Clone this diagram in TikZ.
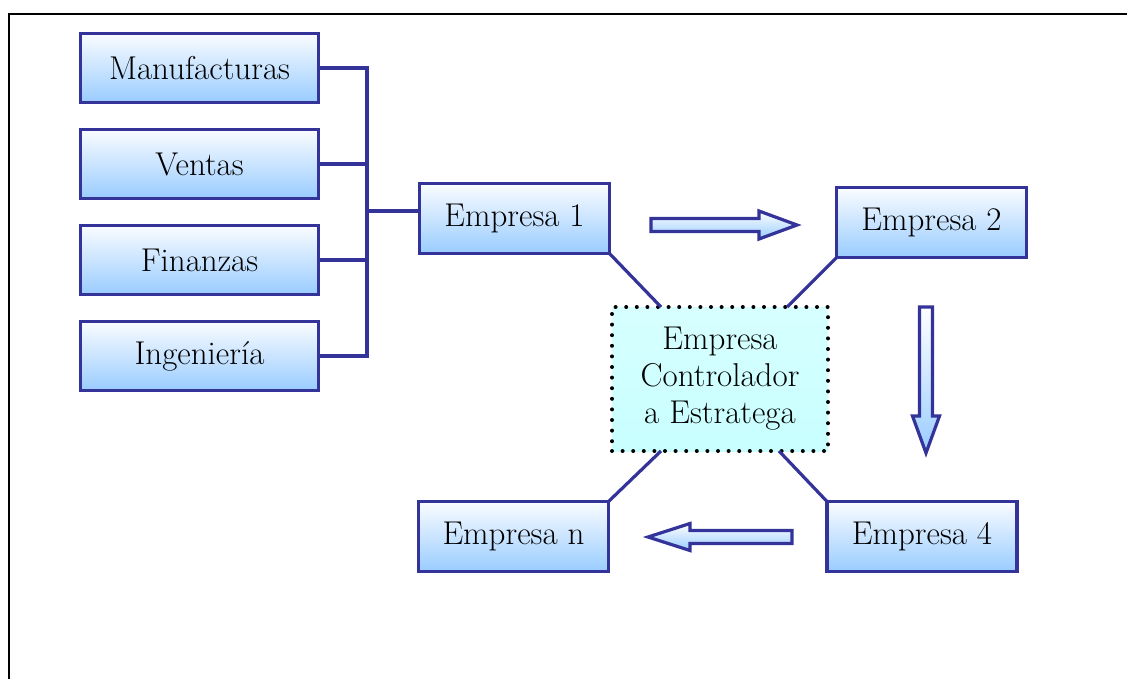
\documentclass[tikz,border=0pt]{standalone}
\usepackage{fontspec}
\setmainfont{Latin Modern Roman}
\usetikzlibrary{calc}
\definecolor{bord}{RGB}{51,51,153}
\definecolor{boxbot}{RGB}{153,204,255}
\definecolor{boxtop}{RGB}{250,252,255}
\definecolor{cyantop}{RGB}{215,255,255}
\definecolor{cyanbot}{RGB}{200,255,255}
\tikzset{
  dept/.style={draw=bord, line width=3.5pt, top color=boxtop, bottom color=boxbot,
    minimum width=238pt, minimum height=69pt, inner sep=0pt, outer sep=0pt,
    font=\fontsize{33}{37}\selectfont},
  emp/.style={dept, minimum width=190pt, minimum height=70pt},
  ctrlbox/.style={draw=black, line width=4pt, line cap=round, dash pattern=on 0pt off 10.6pt,
    top color=cyantop, middle color=white, bottom color=cyanbot,
    minimum width=216pt, minimum height=144pt, inner sep=0pt, outer sep=0pt,
    align=center, font=\fontsize{33}{37}\selectfont},
  conn/.style={draw=bord, line width=3.2pt},
  blockarrow/.style={draw=bord, line width=3.2pt, top color=white, bottom color=boxbot, line join=miter},
}
\begin{document}
\begin{tikzpicture}[x=1pt,y=-1pt]
\useasboundingbox (0,0) rectangle (1127,678);
\draw[line width=1.6pt] (9,690) -- (9,14) -- (1140,14);

\node[dept] (man) at (199.5,68) {Manufacturas};
\node[dept] (ven) at (199.5,164) {Ventas};
\node[dept] (fin) at (199.5,260) {Finanzas};
\node[dept] (ing) at (199.5,356) {Ingeniería};

\node[emp] (emp1) at (514.5,218.5) {Empresa 1};
\node[emp] (emp2) at (931.5,222.5) {Empresa 2};
\node[emp] (empn) at (513.5,536.5) {Empresa n};
\node[emp] (emp4) at (922,536.5) {Empresa 4};

\node[ctrlbox] (ctrl) at (720,379) {Empresa\\Controlador\\a Estratega};

\coordinate (bus) at (367,211);
\draw[conn] (man.east) -- (man.east -| bus) -- (ing.east -| bus) -- (ing.east);
\draw[conn] (ven.east) -- (ven.east -| bus);
\draw[conn] (fin.east) -- (fin.east -| bus);
\draw[conn] (bus) -- (bus -| emp1.west);

\draw[conn] (emp1.south east) -- ([xshift=49pt]ctrl.north west);
\draw[conn] (emp2.south west) -- ([xshift=-41pt]ctrl.north east);
\draw[conn] ([xshift=49pt]ctrl.south west) -- (empn.north east);
\draw[conn] ([xshift=-49pt]ctrl.south east) -- (emp4.north west);

% block arrows
\draw[blockarrow] (651,218.5) -- (759,218.5) -- (759,211) -- (797,225) -- (759,239) -- (759,231.5) -- (651,231.5) -- cycle;
\draw[blockarrow] (919.5,307) -- (932.5,307) -- (932.5,416) -- (939.5,416) -- (926,453) -- (912.5,416) -- (919.5,416) -- cycle;
\draw[blockarrow] (792,530.5) -- (690,530.5) -- (690,523.5) -- (648,537) -- (690,550.5) -- (690,543.5) -- (792,543.5) -- cycle;
\end{tikzpicture}
\end{document}
